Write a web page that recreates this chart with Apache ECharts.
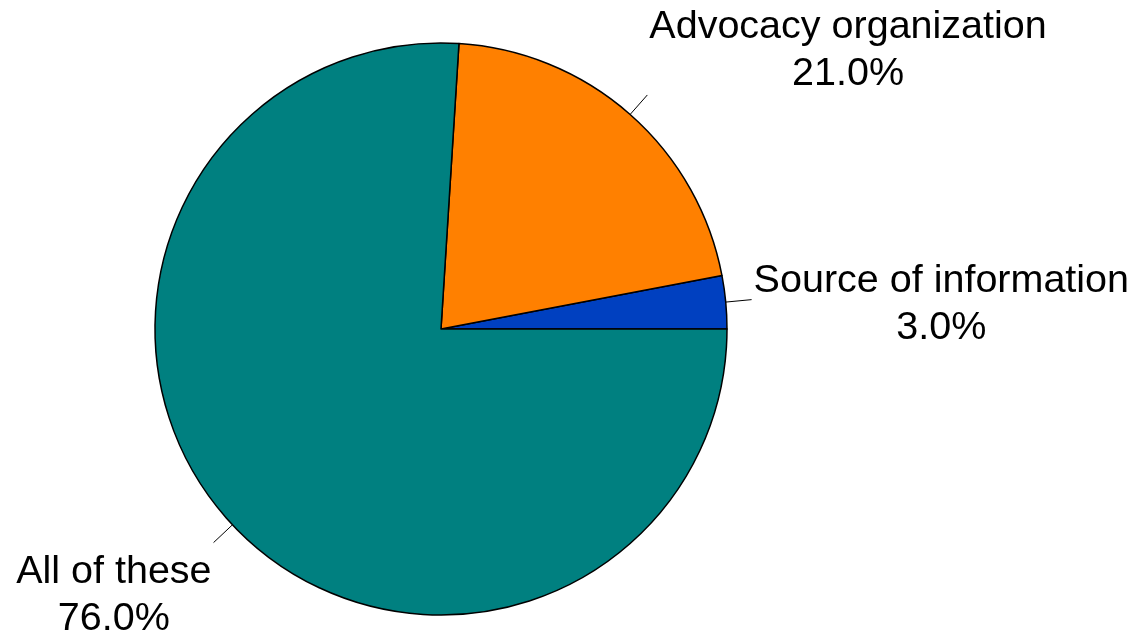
<!DOCTYPE html>
<html>
<head>
<meta charset="utf-8">
<script src="https://cdn.jsdelivr.net/npm/echarts@6/dist/echarts.min.js"></script>
<style>
html,body{margin:0;padding:0;background:#fff;}
#chart{width:1137px;height:632px;}
</style>
</head>
<body>
<div id="chart"></div>
<script>
const categories = ['Source of information', 'Advocacy organization', 'All of these'];
const values = [3.0, 21.0, 76.0];
const colors = ['#0040C0', '#FF8000', '#008080'];

const chart = echarts.init(document.getElementById('chart'), null, {renderer: 'canvas'});
chart.setOption({
  backgroundColor: '#ffffff',
  animation: false,
  series: [{
    type: 'pie',
    center: [441, 329],
    radius: 286,
    startAngle: 0,
    clockwise: false,
    avoidLabelOverlap: false,
    data: categories.map((c, i) => ({name: c, value: values[i], itemStyle: {color: colors[i]}})),
    itemStyle: {borderColor: '#000', borderWidth: 1.5},
    label: {
      show: true,
      position: 'outside',
      formatter: p => p.name + '\n' + p.value.toFixed(1) + '%',
      fontFamily: 'Liberation Sans, Arial, sans-serif',
      fontSize: 39.5,
      lineHeight: 47,
      color: '#000',
      align: 'center'
    },
    labelLine: {show: true, length: 26, length2: 0, lineStyle: {color: '#000', width: 1}},
    labelLayout: function (params) {
      const pts = params.labelLinePoints;
      if (!pts) return {};
      const a = pts[0], b = pts[pts.length - 1];
      const dx = b[0] - a[0], dy = b[1] - a[1];
      const len = Math.sqrt(dx * dx + dy * dy) || 1;
      const w = params.labelRect.width;
      const h = params.labelRect.height;
      const x = dx >= 0 ? b[0] + 2 + w / 2 : b[0] - 2 - w / 2;
      let y;
      if (dy / len < -0.4) y = b[1] - h / 2 + 3;
      else if (dy / len > 0.4) y = b[1] + 6 + h / 2;
      else y = b[1] + 5;
      return {x: x, y: y, align: 'center', verticalAlign: 'middle', labelLinePoints: pts};
    }
  }]
});
</script>
</body>
</html>
